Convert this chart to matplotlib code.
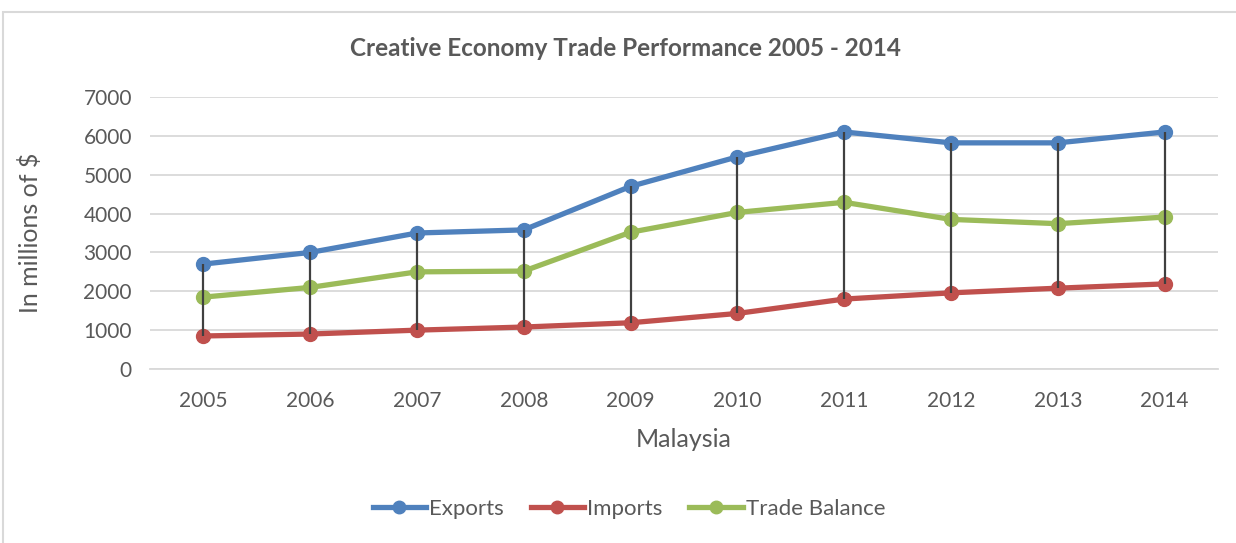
import matplotlib.pyplot as plt
from matplotlib.patches import Rectangle

# Datos (millones de $)
years = ["2005", "2006", "2007", "2008", "2009", "2010", "2011", "2012", "2013", "2014"]
exports = [2700, 3000, 3500, 3580, 4700, 5460, 6100, 5820, 5820, 6100]
imports = [850, 900, 1000, 1080, 1190, 1430, 1800, 1960, 2080, 2190]
balance = [1850, 2100, 2500, 2520, 3520, 4030, 4290, 3850, 3740, 3910]

plt.rcParams["font.family"] = ["Lato", "DejaVu Sans"]
gray = "#595959"

fig = plt.figure(figsize=(12.36, 5.43), dpi=100)
ax = fig.add_axes([150 / 1236, 1 - 369 / 543, 1068 / 1236, 272 / 543])

# marco del grafico
fig.patches.append(Rectangle((3 / 1236, -0.01), 1.0, 1 - 12 / 543 + 0.01,
                             transform=fig.transFigure, fill=False,
                             edgecolor="#d9d9d9", linewidth=1.5))

x = range(len(years))
ax.plot(x, exports, color="#4F81BD", lw=3.8, marker="o", ms=10, label="Exports", zorder=3)
ax.plot(x, imports, color="#C0504D", lw=3.8, marker="o", ms=10, label="Imports", zorder=3)
ax.plot(x, balance, color="#9BBB59", lw=3.8, marker="o", ms=10, label="Trade Balance", zorder=3)

# lineas de maximo-minimo
ax.vlines(x, imports, exports, color="#404040", lw=1.6, zorder=4)

ax.set_xlim(-0.5, len(years) - 0.5)
ax.set_ylim(0, 7000)
ax.set_yticks(range(0, 7001, 1000))
ax.set_xticks(list(x))
ax.set_xticklabels(years)
ax.grid(axis="y", color="#d9d9d9", lw=1.3)
ax.set_axisbelow(True)
for s in ["top", "right", "left"]:
    ax.spines[s].set_visible(False)
ax.spines["bottom"].set_color("#d9d9d9")
ax.spines["bottom"].set_linewidth(1.3)
ax.tick_params(length=0, labelsize=15, colors=gray)
ax.tick_params(axis="y", pad=13)
ax.tick_params(axis="x", pad=16)

fig.text(625 / 1236, 1 - 48 / 543, "Creative Economy Trade Performance 2005 - 2014",
         fontsize=17.5, fontweight="bold", color=gray, ha="center", va="center")
ax.set_xlabel("Malaysia", fontsize=18, color=gray, labelpad=12)
ax.set_ylabel("In millions of $", fontsize=18, color=gray, labelpad=30)

h, l = ax.get_legend_handles_labels()
leg = fig.legend(h, l, loc="center", bbox_to_anchor=(629 / 1236, 1 - 509 / 543), ncol=3,
                 frameon=False, fontsize=16, handlelength=2.4, columnspacing=1.2,
                 handletextpad=0.15, markerscale=0.9)
for t in leg.get_texts():
    t.set_color(gray)

plt.savefig("out.png")
